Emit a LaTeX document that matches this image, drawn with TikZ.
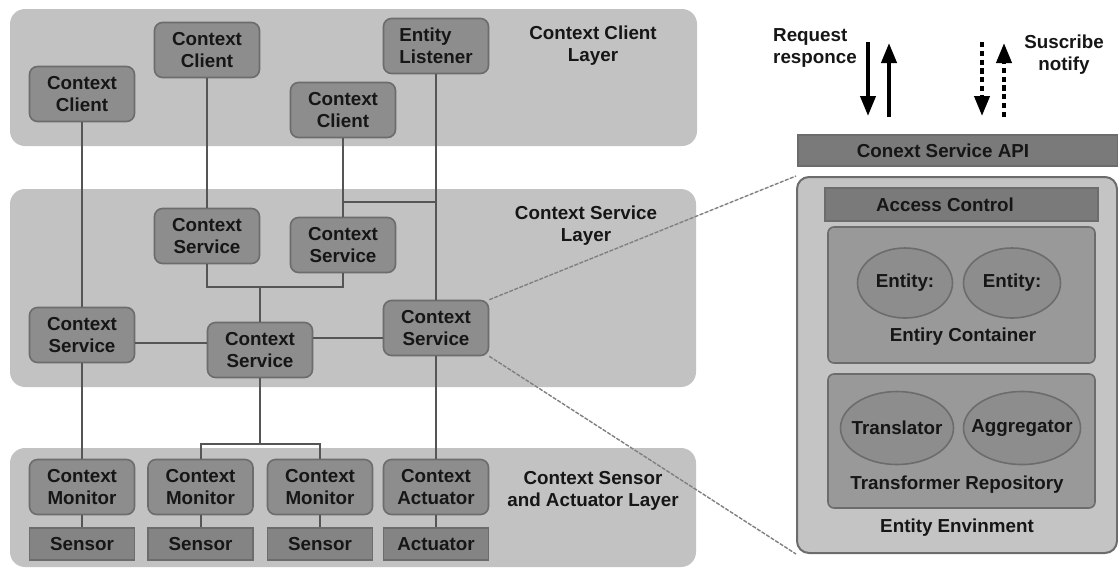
\documentclass[tikz,border=0pt]{standalone}
\usepackage{fontspec}
\setmainfont{Liberation Sans}
\usetikzlibrary{shapes.geometric,arrows.meta}

\definecolor{laybg}{RGB}{194,194,194}
\definecolor{nodefill}{RGB}{141,141,141}
\definecolor{nodeline}{RGB}{108,108,108}
\definecolor{devfill}{RGB}{132,132,132}
\definecolor{wirecol}{RGB}{85,85,85}
\definecolor{barfill}{RGB}{122,122,122}
\definecolor{envfill}{RGB}{196,196,196}
\definecolor{boxfill}{RGB}{153,153,153}
\definecolor{txt}{RGB}{22,22,22}

\newcommand\diagfont{\fontsize{9.4}{11}\selectfont\bfseries}

\tikzset{
  layer/.style={fill=laybg, draw=none, rounded corners=7.5pt},
  unit/.style={draw=nodeline, line width=0.8pt, fill=nodefill, rounded corners=4pt,
    minimum width=52.5pt, minimum height=27.5pt, align=center, inner sep=1pt,
    font=\diagfont, text=txt},
  dev/.style={draw=nodeline, line width=0.8pt, fill=devfill,
    minimum width=52.5pt, minimum height=16pt, inner sep=1pt, font=\diagfont, text=txt},
  wire/.style={draw=wirecol, line width=1pt},
  lbl/.style={font=\diagfont, text=txt, align=center, inner sep=0pt},
  bar/.style={draw=nodeline, line width=0.8pt, fill=barfill},
  innerbox/.style={draw=nodeline, line width=0.8pt, fill=boxfill, rounded corners=3pt},
  blob/.style={ellipse, draw=nodeline, line width=0.8pt, fill=nodefill, inner sep=0pt},
  zoomline/.style={draw=gray, line width=0.7pt, dash pattern=on 2pt off 0.7pt},
  flow/.style={line width=2pt, -{Triangle[width=7.5pt,length=10pt]}},
  flowdash/.style={flow, dash pattern=on 2.6pt off 1.8pt},
}

\begin{document}
\begin{tikzpicture}[x=0.5pt,y=-0.5pt]
\useasboundingbox (0,0) rectangle (1118,569);

% layer backgrounds
\path[layer] (10,9) rectangle (697,146);
\path[layer] (10,189) rectangle (696,387);
\path[layer] (10,448) rectangle (696,567);

\node[lbl] (lclient) at (593,46) {Context Client\\Layer};
\node[lbl] (lservice) at (586,226) {Context Service\\Layer};
\node[lbl] (lsensor) at (593,491) {Context Sensor\\and Actuator Layer};

% junction points of the wiring
\coordinate (j0a) at (343,202);
\coordinate (j0b) at (436,202);
\coordinate (j1) at (260,287);
\coordinate (j2) at (260,444);

% client layer
\node[unit] (cl1) at (82,94) {Context\\Client};
\node[unit] (cl2) at (207,50) {Context\\Client};
\node[unit] (cl3) at (343,110) {Context\\Client};
\node[unit, align=left] (el) at (436,46) {Entity\\Listener};

% service layer
\node[unit] (csa) at (207,236) {Context\\Service};
\node[unit] (csb) at (343,245) {Context\\Service};
\node[unit] (csc) at (82,335) {Context\\Service};
\node[unit] (csd) at (260,350) {Context\\Service};
\node[unit] (cse) at (436,328) {Context\\Service};

% sensor and actuator layer
\node[unit] (mon1) at (82,487) {Context\\Monitor};
\node[unit] (mon2) at (200.5,487) {Context\\Monitor};
\node[unit] (mon3) at (320,487) {Context\\Monitor};
\node[unit] (cact) at (436,487) {Context\\Actuator};
\node[dev] (sen1) at (82,544) {Sensor};
\node[dev] (sen2) at (200.5,544) {Sensor};
\node[dev] (sen3) at (320,544) {Sensor};
\node[dev] (act) at (436,544) {Actuator};

% wiring
\draw[wire] (cl1) -- (csc);
\draw[wire] (csc) -- (mon1);
\draw[wire] (cl2) -- (csa);
\draw[wire] (cl3) -- (csb);
\draw[wire] (el) -- (cse);
\draw[wire] (cse) -- (cact);
\draw[wire] (j0a) -- (j0b);
\draw[wire] (csa.south) |- (j1) -| (csb.south);
\draw[wire] (j1) -- (csd);
\draw[wire] (csc.east |- 0,343) -- (csd.west |- 0,343);
\draw[wire] (csd.east |- 0,338) -- (cse.west |- 0,338);
\draw[wire] (csd) -- (j2);
\draw[wire] (mon2.north) |- (j2) -| (mon3.north);
\draw[wire] (mon1) -- (sen1);
\draw[wire] (mon2) -- (sen2);
\draw[wire] (mon3) -- (sen3);
\draw[wire] (cact) -- (act);

% entity environment
\node[draw=nodeline, line width=1pt, fill=envfill, rounded corners=6pt,
      minimum width=160pt, minimum height=188pt, inner sep=0pt] (env) at (957,365) {};
\node[bar, minimum width=160pt, minimum height=15.5pt, inner sep=0pt] (api) at (958,150.5) {};
\node[lbl] (apilbl) at (943,150.5) {Conext Service API};
\node[bar, minimum width=136.5pt, minimum height=16.5pt, inner sep=0pt] (acc) at (961.5,204.5) {};
\node[lbl] (acclbl) at (945,204.5) {Access Control};

\node[innerbox, minimum width=133.5pt, minimum height=68pt, inner sep=0pt] (cont) at (961.5,295) {};
\node[blob, minimum width=47.5pt, minimum height=35pt, label={[lbl]center:Entity:}] (ent1) at (905,283) {};
\node[blob, minimum width=48.5pt, minimum height=35pt, label={[lbl]center:Entity:}] (ent2) at (1012,283) {};
\node[lbl] (contlbl) at (963,337) {Entiry Container};

\node[innerbox, minimum width=133.5pt, minimum height=67pt, inner sep=0pt] (repo) at (961.5,441) {};
\node[blob, minimum width=56.5pt, minimum height=36.5pt, label={[lbl]center:Translator}] (trans) at (897,428) {};
\node[blob, minimum width=58.5pt, minimum height=36.5pt, label={[lbl]center:Aggregator}] (aggr) at (1022,428) {};
\node[lbl] (repolbl) at (957,485) {Transformer Repository};
\node[lbl] (envlbl) at (957,528) {Entity Envinment};

% magnifier lines
\draw[zoomline] (cse.north east) -- (env.north west);
\draw[zoomline] (cse.south east) -- (env.south west);

% interaction arrows above the API
\node[lbl, align=left] (reqlbl) at (815,48) {Request\\responce};
\node[lbl] (sublbl) at (1064,55) {Suscribe\\notify};
\coordinate (rqa) at (868,42);
\coordinate (rqb) at (868,116);
\coordinate (rsa) at (889,117);
\coordinate (rsb) at (889,43);
\coordinate (sba) at (982,42);
\coordinate (sbb) at (982,116);
\coordinate (nta) at (1004,117);
\coordinate (ntb) at (1004,43);
\draw[flow] (rqa) -- (rqb);
\draw[flow] (rsa) -- (rsb);
\draw[flowdash] (sba) -- (sbb);
\draw[flowdash] (nta) -- (ntb);
\end{tikzpicture}
\end{document}
